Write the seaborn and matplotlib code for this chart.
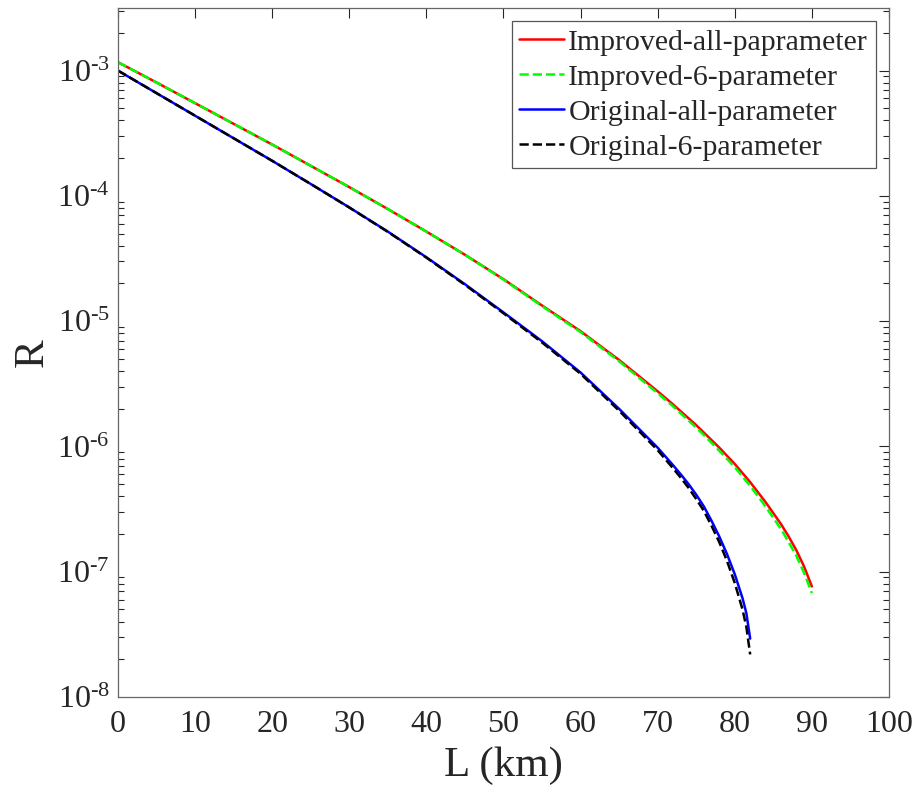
import numpy as np
import pandas as pd
import matplotlib
matplotlib.use("Agg")
import matplotlib.pyplot as plt
import matplotlib.ticker as mticker
import seaborn as sns

# ---- data (log10 of R) ----
x_improved = [0, 5, 10, 15, 20, 25, 30, 35, 40, 45, 50, 55, 60, 65, 70, 72, 75, 76, 78, 80, 82, 84, 86, 87, 88, 89, 90]
logR_improved_all = [-2.933, -3.095, -3.26, -3.425, -3.59, -3.76, -3.93, -4.105, -4.285, -4.47, -4.665,
                     -4.875, -5.08, -5.31, -5.56, -5.665, -5.83, -5.89, -6.01, -6.14, -6.285, -6.445,
                     -6.62, -6.72, -6.83, -6.96, -7.117]
logR_improved_6 = [-2.933, -3.095, -3.26, -3.425, -3.59, -3.76, -3.93, -4.105, -4.285, -4.47, -4.668,
                   -4.88, -5.087, -5.32, -5.575, -5.68, -5.85, -5.91, -6.035, -6.165, -6.315, -6.48,
                   -6.66, -6.765, -6.875, -7.01, -7.17]

x_original = [0, 5, 10, 15, 20, 25, 30, 35, 40, 45, 50, 55, 60, 65, 70, 72, 73, 74, 75, 76, 77, 78, 79, 80, 81, 81.5, 82]
logR_original_all = [-3.0, -3.18, -3.36, -3.54, -3.72, -3.905, -4.092, -4.285, -4.49, -4.705, -4.93,
                     -5.16, -5.41, -5.70, -6.01, -6.15, -6.223, -6.30, -6.385, -6.48, -6.595, -6.72,
                     -6.86, -7.02, -7.21, -7.33, -7.534]
logR_original_6 = [-3.0, -3.18, -3.36, -3.54, -3.72, -3.905, -4.093, -4.287, -4.493, -4.71, -4.937,
                   -5.17, -5.42, -5.715, -6.03, -6.175, -6.25, -6.33, -6.42, -6.515, -6.635, -6.765,
                   -6.915, -7.09, -7.30, -7.44, -7.66]

series_names = ["Improved-all-paprameter", "Improved-6-parameter", "Original-all-parameter", "Original-6-parameter"]
series_colors = ["#ff0000", "#00ff00", "#0000ff", "#000000"]
series_styles = ["-", "--", "-", "--"]

x_ticks = [0, 10, 20, 30, 40, 50, 60, 70, 80, 90, 100]
y_exponents = [-8, -7, -6, -5, -4, -3]

frames = []
for name, xs, ys in zip(series_names,
                        [x_improved, x_improved, x_original, x_original],
                        [logR_improved_all, logR_improved_6, logR_original_all, logR_original_6]):
    frames.append(pd.DataFrame({"L": xs, "R": np.power(10.0, ys), "series": name}))
df = pd.concat(frames, ignore_index=True)

# ---- style ----
sns.set_theme(style="white")
plt.rcParams["font.family"] = ["Liberation Serif", "DejaVu Serif"]
plt.rcParams["mathtext.fontset"] = "custom"
plt.rcParams["mathtext.rm"] = "Liberation Serif"
plt.rcParams["mathtext.it"] = "Liberation Serif:italic"
plt.rcParams["mathtext.bf"] = "Liberation Serif:bold"

fig = plt.figure(figsize=(9.14, 7.89), dpi=100)
ax = fig.add_axes([0.1291, 0.1166, 0.8435, 0.8733])

for name, col, ls in zip(series_names, series_colors, series_styles):
    sub = df[df["series"] == name]
    sns.lineplot(data=sub, x="L", y="R", ax=ax, color=col, linestyle=ls,
                 linewidth=1.8, label=name, estimator=None, sort=False)

ax.set_yscale("log")
ax.set_xlim(0, 100)
ax.set_ylim(1e-8, 10 ** -2.5)
ax.set_xticks(x_ticks)
ax.set_xticklabels([str(t) for t in x_ticks])
ax.yaxis.set_major_locator(mticker.FixedLocator([10.0 ** e for e in y_exponents]))
ax.yaxis.set_major_formatter(mticker.FixedFormatter([r"$10^{\text{%d}}$" % e for e in y_exponents]))
ax.yaxis.set_minor_locator(mticker.LogLocator(base=10, subs=np.arange(2, 10), numticks=20))
ax.yaxis.set_minor_formatter(mticker.NullFormatter())

ax.tick_params(axis="both", which="major", direction="in", length=7, width=0.8,
               top=True, right=True, labelsize=23, colors="#262626")
ax.tick_params(axis="x", which="major", pad=9)
ax.tick_params(axis="y", which="major", pad=6)
ax.tick_params(axis="y", which="minor", direction="in", length=4, width=0.8,
               left=True, right=True, colors="#262626")
ax.tick_params(axis="x", which="minor", bottom=False, top=False)
for sp in ax.spines.values():
    sp.set_color("#666666")
    sp.set_linewidth(0.9)

ax.set_xlabel("L (km)", fontsize=31, color="#262626", labelpad=6)
ax.set_ylabel("R", fontsize=31, color="#262626", labelpad=4)

leg = ax.legend(loc="upper right", fontsize=21.5, frameon=True, fancybox=False,
                edgecolor="#555555", framealpha=1, handlelength=1.5, handletextpad=0.15,
                borderpad=0.25, labelspacing=0.27, borderaxespad=0.45)
leg.get_frame().set_linewidth(0.9)

fig.savefig("out.png", dpi=100)
